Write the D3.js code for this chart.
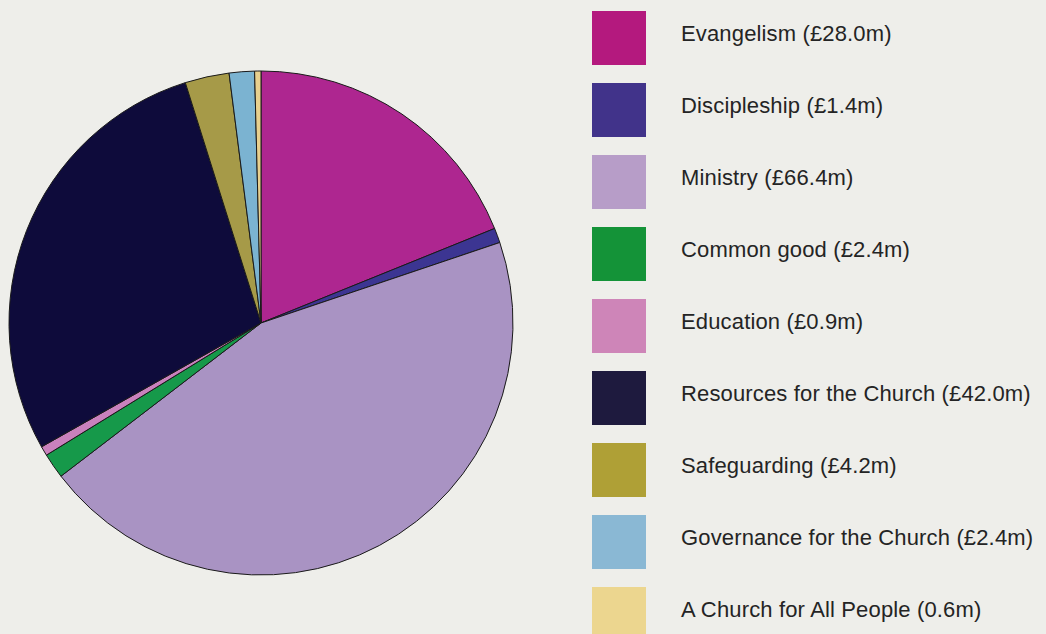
<!DOCTYPE html>
<html>
<head>
<meta charset="utf-8">
<script src="https://cdn.jsdelivr.net/npm/d3@7"></script>
<style>
  body { margin: 0; background: #eeeeea; }
  svg { display: block; }
  .label { font-family: "Liberation Sans", Arial, sans-serif; font-size: 22px; letter-spacing: 0.15px; fill: #242424; }
</style>
</head>
<body>
<div id="chart"></div>
<script>
// categories and values (£m)
var categories = ["Evangelism", "Discipleship", "Ministry", "Common good", "Education",
    "Resources for the Church", "Safeguarding", "Governance for the Church", "A Church for All People"];
var values = [28.0, 1.4, 66.4, 2.4, 0.9, 42.0, 4.2, 2.4, 0.6];
var labels = ["Evangelism (£28.0m)", "Discipleship (£1.4m)", "Ministry (£66.4m)", "Common good (£2.4m)",
    "Education (£0.9m)", "Resources for the Church (£42.0m)", "Safeguarding (£4.2m)",
    "Governance for the Church (£2.4m)", "A Church for All People (0.6m)"];
var legendColors = ["#b4197e", "#41338a", "#b79dc8", "#149338", "#ce85b8", "#1e1a3e", "#afa036", "#8ab8d4", "#ecd68f"];
var pieColors = ["#ae2690", "#3c3592", "#a993c3", "#16994a", "#c981bd", "#0e0b3b", "#a69a48", "#7bb3d1", "#e8d08e"];

var width = 1046, height = 634;
var cx = 261, cy = 323, radius = 252;

var svg = d3.select("#chart").append("svg")
    .attr("width", width)
    .attr("height", height);

var data = categories.map(function(c, i) {
    return {name: c, value: values[i], label: labels[i], i: i};
});

//pie starting at 12 o'clock, clockwise, keeping data order
var pie = d3.pie().sort(null).value(function(d) { return d.value; });
var arc = d3.arc().innerRadius(0).outerRadius(radius);

var g = svg.append("g").attr("transform", "translate(" + cx + "," + cy + ")");

g.selectAll("path")
    .data(pie(data))
    .enter().append("path")
    .attr("d", arc)
    .attr("fill", function(d) { return pieColors[d.data.i]; })
    .attr("stroke", "#1a1a1a")
    .attr("stroke-width", 1)
    .attr("stroke-linejoin", "round");

//legend, one swatch every 72px
var legend = svg.selectAll("g.legend")
    .data(data)
    .enter().append("g")
    .attr("class", "legend")
    .attr("transform", function(d) { return "translate(592," + (11 + 72 * d.i) + ")"; });

legend.append("rect")
    .attr("width", 54)
    .attr("height", 54)
    .attr("fill", function(d) { return legendColors[d.i]; });

legend.append("text")
    .attr("class", "label")
    .attr("x", 89)
    .attr("y", 30)
    .text(function(d) { return d.label; });
</script>
</body>
</html>
